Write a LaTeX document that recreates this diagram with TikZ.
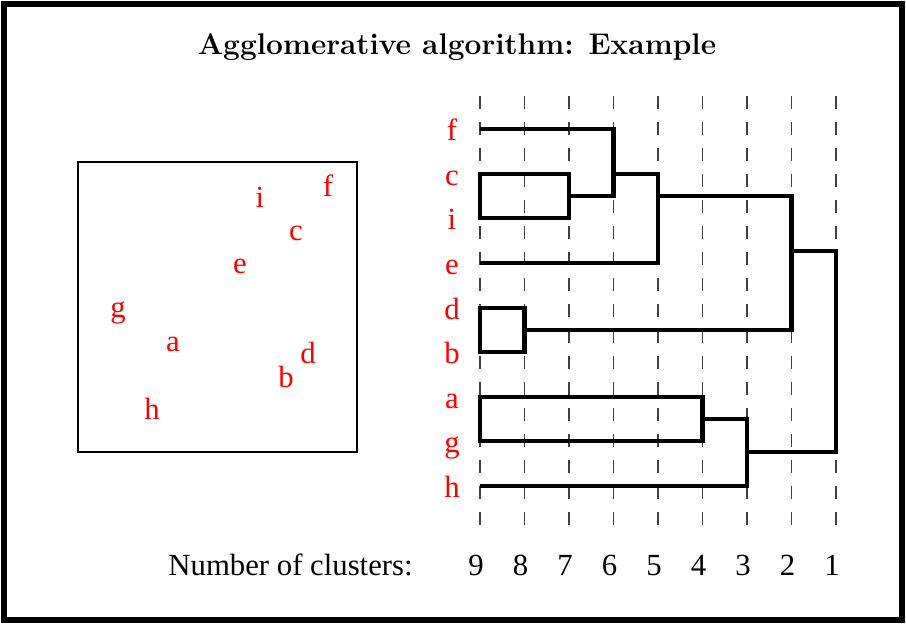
\documentclass[tikz,border=0pt]{standalone}
\usepackage{fontspec}
\newfontfamily\timesfont{Liberation Serif}
\begin{document}
\begin{tikzpicture}[x=0.02cm, y=-0.02cm,
  pt/.style={text=red, font=\timesfont\fontsize{17.5}{20}\selectfont, inner sep=0pt},
  num/.style={font=\timesfont\fontsize{17.5}{20}\selectfont, inner sep=0pt, anchor=base},
  link/.style={line width=2.3pt, line join=miter},
  guide/.style={line width=0.6pt, black!75, dash pattern=on 7.4pt off 7.4pt}]
\useasboundingbox (0,0) rectangle (906,623);
\draw[line width=3.8pt] (4,4) rectangle (902,620);
\node[font=\fontsize{17}{20}\selectfont\bfseries] (title) at (457,47) {Agglomerative algorithm: Example};
% points
\node[draw, line width=1pt, minimum width=5.58cm, minimum height=5.8cm] (plane) at (217.5,307) {};
\node[pt] (pi) at (260,197) {i};
\node[pt] (pf) at (328,186) {f};
\node[pt] (pc) at (296,233) {c};
\node[pt] (pe) at (240,266) {e};
\node[pt] (pg) at (118,313) {g};
\node[pt] (pa) at (173,344) {a};
\node[pt] (pd) at (308,353) {d};
\node[pt] (pb) at (286,377) {b};
\node[pt] (ph) at (152,409) {h};
% levels
\foreach \k [count=\i from 0] in {9,8,7,6,5,4,3,2,1} {
  \draw[guide] (480+44.5*\i,96) -- (480+44.5*\i,530);
  \node[num] (n\k) at (476+44.5*\i,575) {\k};
}
\node[num, anchor=base east] (ncl) at (413,575) {Number of clusters:};
% leaves
\foreach \n/\y in {f/129,c/174,i/218,e/263,d/308,b/352,a/397,g/441,h/486} {
  \node[pt, anchor=base] (l\n) at (452,\y+11) {\n};
  \coordinate (r\n) at (480,\y);
}
% dendrogram
\draw[link] (rf) -- (613.5,129) -- (613.5,196) -- (569,196);
\draw[link] (rc) rectangle (569,218);
\draw[link] (613.5,174) -- (658,174) -- (658,263) -- (re);
\draw[link] (658,196) -- (791.5,196) -- (791.5,330) -- (524.5,330);
\draw[link] (rd) rectangle (524.5,352);
\draw[link] (ra) rectangle (702.5,441);
\draw[link] (702.5,419) -- (747,419) -- (747,486) -- (rh);
\draw[link] (791.5,251) -- (836,251) -- (836,452) -- (747,452);
\end{tikzpicture}
\end{document}
